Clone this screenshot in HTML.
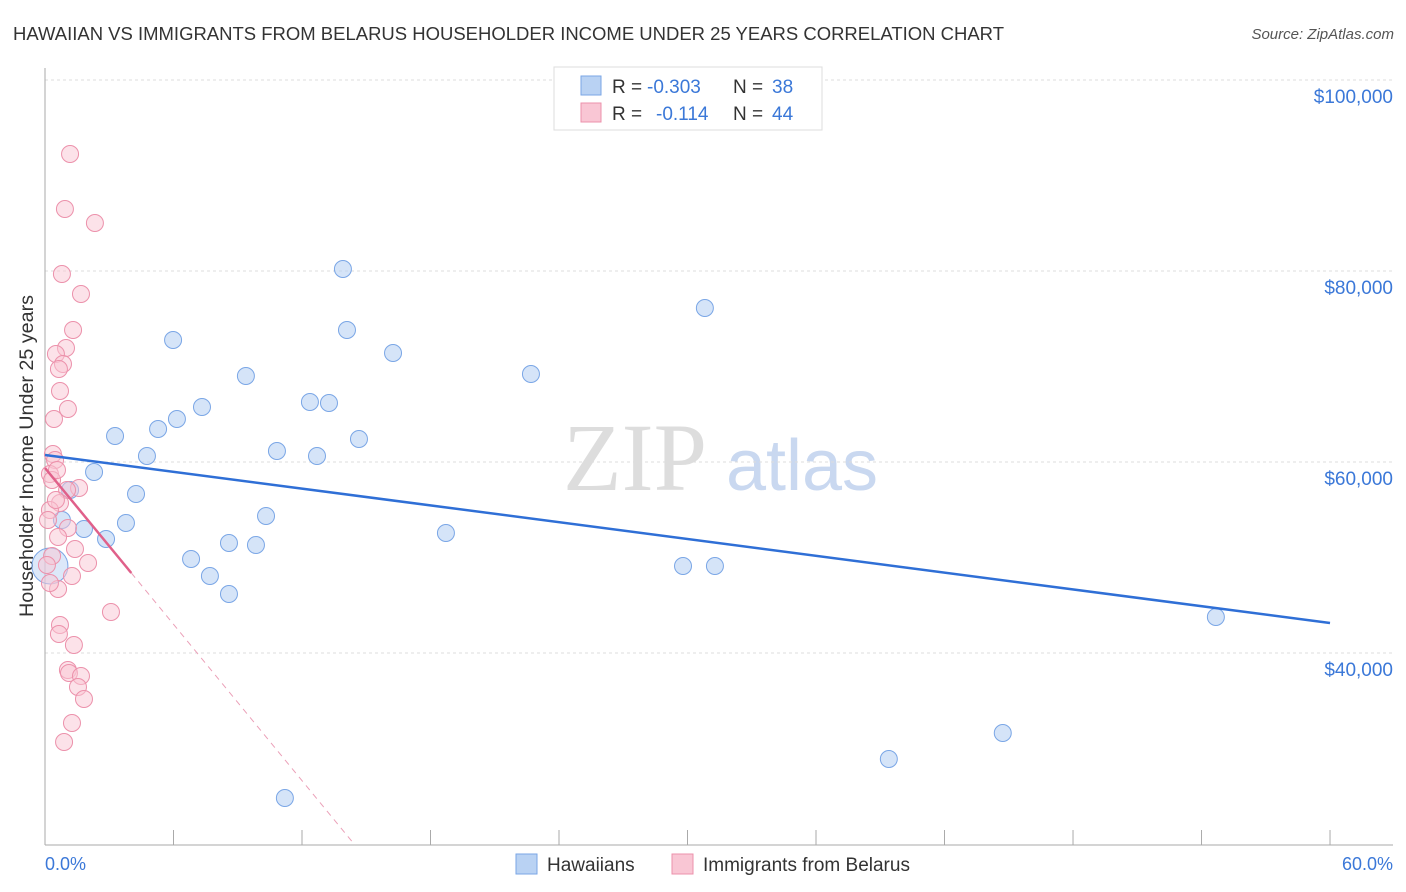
<!DOCTYPE html>
<html><head><meta charset="utf-8"><style>
html,body{margin:0;padding:0;background:#fff;width:1406px;height:892px;overflow:hidden;font-family:"Liberation Sans",sans-serif;}
svg{position:absolute;left:0;top:0}
</style></head><body>
<svg id="chart" width="1406" height="892" xmlns="http://www.w3.org/2000/svg">
<text x="13" y="40" font-size="18" fill="#333" textLength="991" lengthAdjust="spacingAndGlyphs">HAWAIIAN VS IMMIGRANTS FROM BELARUS HOUSEHOLDER INCOME UNDER 25 YEARS CORRELATION CHART</text>
<text x="1394" y="39" font-size="15" fill="#555" text-anchor="end" font-style="italic">Source: ZipAtlas.com</text>
<g>
<text x="635" y="490" font-size="96" fill="#ddd" font-family="Liberation Serif,serif" text-anchor="middle">ZIP</text>
<text x="802" y="490" font-size="72" fill="#c9d8f0" text-anchor="middle">atlas</text>
</g>
<g id="grid"></g>
<line x1="45" y1="68" x2="45" y2="845" stroke="#aaa"/>
<line x1="45" y1="845" x2="1393" y2="845" stroke="#aaa"/>
<g id="ticks"></g>
<text transform="translate(33,456) rotate(-90)" font-size="19" fill="#333" text-anchor="middle" textLength="322" lengthAdjust="spacingAndGlyphs">Householder Income Under 25 years</text>
<text x="45" y="870" font-size="18" fill="#3b78d8">0.0%</text>
<text x="1393" y="870" font-size="18" fill="#3b78d8" text-anchor="end">60.0%</text>
<g id="pts"></g>
<g id="lines"></g>
<g>
<rect x="554" y="67" width="268" height="63" fill="#fff" stroke="#ddd"/>
<rect x="581" y="76" width="20" height="19" fill="#b9d2f3" stroke="#7aa6e6"/>
<rect x="581" y="103" width="20" height="19" fill="#f9c6d4" stroke="#ec91ab"/>
<text x="612" y="93" font-size="19" fill="#333">R =</text>
<text x="647" y="93" font-size="19" fill="#3b78d8">-0.303</text>
<text x="733" y="93" font-size="19" fill="#333">N =</text>
<text x="772" y="93" font-size="19" fill="#3b78d8">38</text>
<text x="612" y="120" font-size="19" fill="#333">R =</text>
<text x="656" y="120" font-size="19" fill="#3b78d8">-0.114</text>
<text x="733" y="120" font-size="19" fill="#333">N =</text>
<text x="772" y="120" font-size="19" fill="#3b78d8">44</text>
</g>
<g>
<rect x="516" y="854" width="21" height="20" fill="#b9d2f3" stroke="#7aa6e6"/>
<text x="547" y="871" font-size="19" fill="#333">Hawaiians</text></g>
<g>
<rect x="672" y="854" width="21" height="20" fill="#f9c6d4" stroke="#ec91ab"/>
<text x="703" y="871" font-size="19" fill="#333">Immigrants from Belarus</text></g>
</svg>
<script>
const yTicks=[100000,80000,60000,40000];
const yTickLabels=["$100,000","$80,000","$60,000","$40,000"];
const xTicks=[0,6,12,18,24,30,36,42,48,54,60];
const blueX=[13.91,30.81,5.98,14.10,16.25,22.69,9.38,7.33,12.37,13.26,6.16,5.28,3.27,14.66,4.76,10.83,12.70,2.29,1.17,4.25,3.78,10.32,0.79,1.82,2.85,18.72,6.82,8.59,9.85,7.70,8.59,29.79,31.28,54.67,44.72,39.40,11.20,0.23];
const blueY=[80210,76126,72775,73822,71414,69215,69006,65760,66283,66178,64503,63455,62722,62408,60628,61152,60628,58953,57068,56649,53613,54346,53927,52984,51937,52565,49843,51518,51309,48063,46178,49110,49110,43770,31626,28903,24819,49110];
const pinkX=[1.17,0.93,2.33,0.79,1.68,1.31,0.98,0.51,0.84,0.65,0.70,1.07,0.42,0.37,0.47,0.23,0.33,1.59,1.03,0.70,0.23,1.07,0.61,1.40,0.33,2.01,1.26,0.61,3.08,0.70,0.65,1.35,1.07,1.12,1.68,1.54,1.82,1.26,0.89,0.23,0.14,0.51,0.09,0.56];
const pinkY=[92251,86492,85026,79686,77592,73822,71937,71309,70262,69738,67435,65550,64503,60838,60210,58744,58116,57278,57068,55707,54974,53089,52147,50890,50157,49424,48063,46702,44293,42932,41990,40838,38220,37906,37592,36440,35183,32670,30681,47330,53927,56021,49215,59163];
const blueTrend=[60733,43141];
const pinkTrend=[59372,-2728];
const pinkSolidEnd=4.03, pinkDashEnd=14.47;
const NS="http://www.w3.org/2000/svg";
const X=v=>45+v*21.417, Y=v=>80+(100000-v)*191/20000;
function mk(tag,attrs,parent){const e=document.createElementNS(NS,tag);for(const k in attrs)e.setAttribute(k,attrs[k]);document.getElementById(parent).appendChild(e);return e;}
yTicks.forEach((t,i)=>{
 const g=mk('line',{x1:45,x2:1393,y1:Y(t),y2:Y(t),stroke:'#ddd','stroke-dasharray':'3,3'},'grid');
 
 
 const l=mk('text',{x:1393,y:Y(t)+23,'font-size':19,fill:'#3b78d8','text-anchor':'end'},'grid');
 l.textContent=yTickLabels[i];
 
 
});
xTicks.forEach(t=>{
 const e=mk('line',{x1:X(t),x2:X(t),y1:830,y2:845,stroke:'#aaa'},'ticks');
 
 
});
blueX.forEach((x,i)=>{
 const big=(i===blueX.length-1);
 const c=mk('circle',{cx:X(x),cy:Y(blueY[i]),r:big?18:8.5,fill:'#b9d2f3','fill-opacity':big?0.5:0.6,stroke:'#7aa6e6','stroke-width':1},'pts');
 
 
});
pinkX.forEach((x,i)=>{
 const c=mk('circle',{cx:X(x),cy:Y(pinkY[i]),r:8.5,fill:'#f9c6d4','fill-opacity':0.5,stroke:'#ec91ab','stroke-width':1},'pts');
 
 
});
const bl=mk('line',{x1:X(0),y1:Y(blueTrend[0]),x2:X(60),y2:Y(blueTrend[1]),stroke:'#2f6fd6','stroke-width':2.5},'lines');


const pv=x=>pinkTrend[0]+pinkTrend[1]*x;
const ps=mk('line',{x1:X(0),y1:Y(pv(0)),x2:X(pinkSolidEnd),y2:Y(pv(pinkSolidEnd)),stroke:'#e0608a','stroke-width':2.5},'lines');


const pd=mk('line',{x1:X(pinkSolidEnd),y1:Y(pv(pinkSolidEnd)),x2:X(pinkDashEnd),y2:Y(pv(pinkDashEnd)),stroke:'#eba0b8','stroke-width':1,'stroke-dasharray':'6,5'},'lines');


</script>
</body></html>
